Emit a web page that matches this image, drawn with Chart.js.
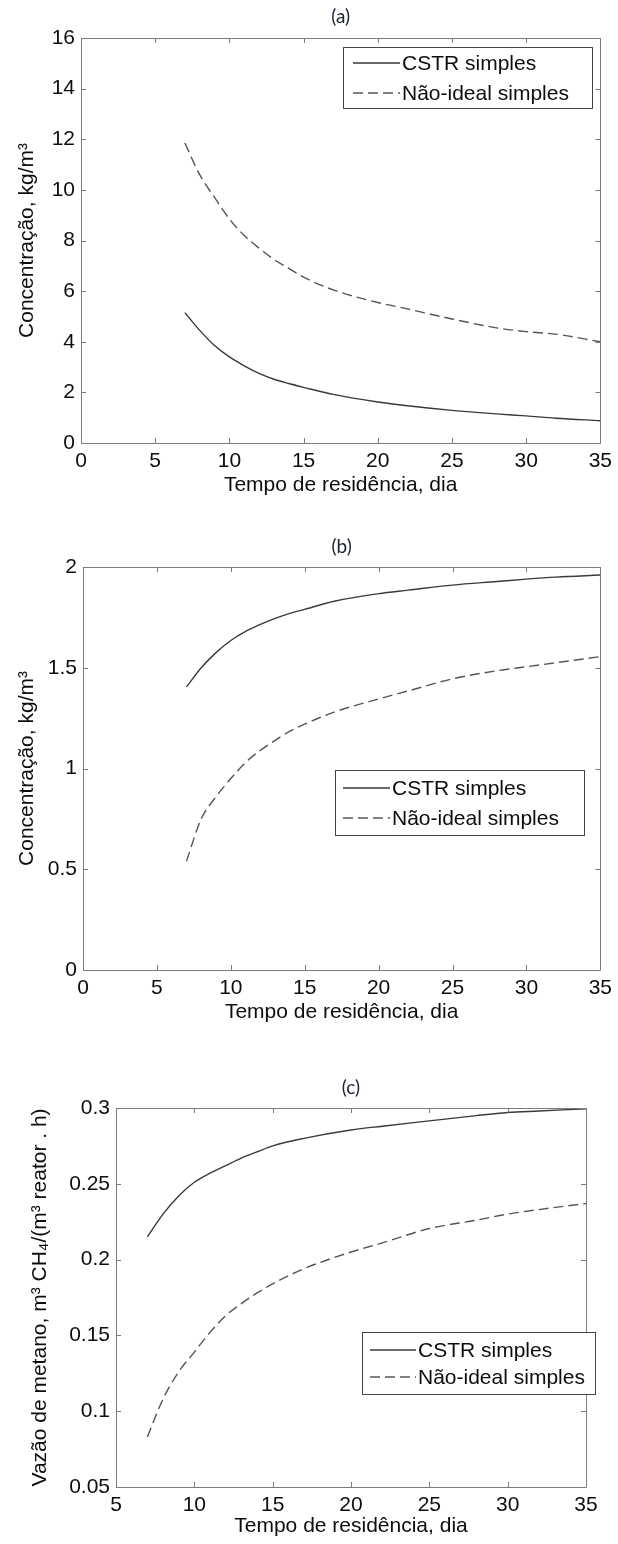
<!DOCTYPE html>
<html>
<head>
<meta charset="utf-8">
<script src="https://cdn.jsdelivr.net/npm/chart.js@4.4.0/dist/chart.umd.min.js"></script>
<style>
    body { margin: 0; background: #fff; width: 618px; height: 1544px; position: relative; overflow: hidden; }
    .panel { position: absolute; left: 0; width: 618px; }
    canvas { display: block; }
</style>
</head>
<body>
<div class="panel" style="top:0;"><canvas id="chartA" width="618" height="500"></canvas></div>
<div class="panel" style="top:520px;"><canvas id="chartB" width="618" height="507"></canvas></div>
<div class="panel" style="top:1060px;"><canvas id="chartC" width="618" height="484"></canvas></div>
<script>
// Residence time (days) used by every curve
const days = [7, 8, 9, 10, 11, 12, 13, 14, 15, 17, 20, 22, 25, 28, 30, 32, 35];
const seriesLabels = ['CSTR simples', 'Não-ideal simples'];

// (a) concentration, kg/m3
const concA_cstr     = [5.15, 4.45, 3.85, 3.4, 3.05, 2.75, 2.52, 2.35, 2.2, 1.92, 1.62, 1.47, 1.29, 1.15, 1.07, 0.98, 0.88];
const concA_naoIdeal = [11.85, 10.6, 9.7, 8.85, 8.2, 7.7, 7.25, 6.9, 6.55, 6.05, 5.55, 5.3, 4.9, 4.55, 4.4, 4.3, 4.0];
const xTicksA = [0, 5, 10, 15, 20, 25, 30, 35];
const yTicksA = [0, 2, 4, 6, 8, 10, 12, 14, 16];

// (b) concentration, kg/m3
const concB_cstr     = [1.405, 1.5, 1.575, 1.635, 1.68, 1.715, 1.745, 1.77, 1.79, 1.83, 1.868, 1.885, 1.91, 1.928, 1.94, 1.95, 1.96];
const concB_naoIdeal = [0.54, 0.75, 0.86, 0.95, 1.03, 1.09, 1.14, 1.185, 1.22, 1.28, 1.345, 1.385, 1.445, 1.485, 1.505, 1.525, 1.555];
const xTicksB = [0, 5, 10, 15, 20, 25, 30, 35];
const yTicksB = [0, 0.5, 1, 1.5, 2];

// (c) methane flow, m3 CH4/(m3 reactor . h)
const flowC_cstr     = [0.215, 0.23, 0.242, 0.251, 0.257, 0.262, 0.267, 0.271, 0.275, 0.28, 0.2855, 0.288, 0.2915, 0.295, 0.297, 0.298, 0.2995];
const flowC_naoIdeal = [0.083, 0.108, 0.126, 0.139, 0.152, 0.163, 0.171, 0.178, 0.184, 0.194, 0.205, 0.211, 0.2205, 0.226, 0.23, 0.233, 0.237];
const xTicksC = [5, 10, 15, 20, 25, 30, 35];
const yTicksC = [0.05, 0.1, 0.15, 0.2, 0.25, 0.3];

const FONT = "'Liberation Sans', Arial, sans-serif";
const TEXT_COLOR = '#0d0d0d';

// MATLAB style box with inward ticks on all four sides
const frameBox = {
    id: 'frameBox',
    afterDatasetsDraw(chart) {
        const { ctx, chartArea: a, scales: { x, y } } = chart;
        const len = 5;
        ctx.save();
        ctx.strokeStyle = '#7c7c7c';
        ctx.lineWidth = 1;
        ctx.beginPath();
        ctx.rect(Math.round(a.left) + 0.5, Math.round(a.top) + 0.5,
                 Math.round(a.right - a.left), Math.round(a.bottom - a.top));
        x.ticks.forEach(t => {
            const px = Math.round(x.getPixelForValue(t.value)) + 0.5;
            ctx.moveTo(px, a.bottom); ctx.lineTo(px, a.bottom - len);
            ctx.moveTo(px, a.top); ctx.lineTo(px, a.top + len);
        });
        y.ticks.forEach(t => {
            const py = Math.round(y.getPixelForValue(t.value)) + 0.5;
            ctx.moveTo(a.left, py); ctx.lineTo(a.left + len, py);
            ctx.moveTo(a.right, py); ctx.lineTo(a.right - len, py);
        });
        ctx.stroke();
        ctx.restore();
    }
};

// Legend box drawn inside the plot
const boxLegend = {
    id: 'boxLegend',
    afterDraw(chart, args, opts) {
        if (!opts || opts.left === undefined) return;
        const { ctx } = chart;
        ctx.save();
        ctx.fillStyle = '#fff';
        ctx.fillRect(opts.left, opts.top, opts.width, opts.height);
        ctx.strokeStyle = '#444';
        ctx.lineWidth = 1;
        ctx.strokeRect(opts.left + 0.5, opts.top + 0.5, opts.width, opts.height);
        chart.data.datasets.forEach((ds, i) => {
            const yRow = opts.top + opts.rows[i];
            ctx.beginPath();
            ctx.strokeStyle = ds.borderColor;
            ctx.lineWidth = ds.borderWidth;
            ctx.setLineDash(ds.borderDash || []);
            ctx.moveTo(opts.left + opts.lineStart, yRow);
            ctx.lineTo(opts.left + opts.lineEnd, yRow);
            ctx.stroke();
            ctx.setLineDash([]);
            ctx.fillStyle = TEXT_COLOR;
            ctx.font = '21px ' + FONT;
            ctx.textBaseline = 'middle';
            ctx.textAlign = 'left';
            ctx.fillText(ds.label, opts.left + opts.lineEnd + 2, yRow + 1);
        });
        ctx.restore();
    }
};

// Small "(a)" style caption above each plot
const panelTitle = {
    id: 'panelTitle',
    afterDraw(chart, args, opts) {
        if (!opts || !opts.text) return;
        const { ctx, chartArea: a } = chart;
        ctx.save();
        ctx.fillStyle = '#1c2233';
        ctx.font = "19px Lato, 'Open Sans', sans-serif";
        ctx.textAlign = 'center';
        ctx.textBaseline = 'middle';
        ctx.fillText(opts.text, (a.left + a.right) / 2, opts.y);
        ctx.restore();
    }
};

function fmt(v) {
    return String(+v.toFixed(3));
}

function makePanel(canvasId, cfg) {
    const ctx = document.getElementById(canvasId).getContext('2d');
    return new Chart(ctx, {
        type: 'line',
        data: {
            datasets: [{
                label: seriesLabels[0],
                data: days.map((d, i) => ({ x: d, y: cfg.solid[i] })),
                borderColor: '#3a3a3a',
                borderWidth: 1.4,
                pointRadius: 0,
                cubicInterpolationMode: 'monotone',
                fill: false
            }, {
                label: seriesLabels[1],
                data: days.map((d, i) => ({ x: d, y: cfg.dashed[i] })),
                borderColor: '#555',
                borderWidth: 1.4,
                borderDash: [10, 5],
                pointRadius: 0,
                cubicInterpolationMode: 'monotone',
                fill: false
            }]
        },
        options: {
            responsive: false,
            devicePixelRatio: 1,
            animation: false,
            layout: { padding: { top: cfg.top, right: cfg.right, left: 0, bottom: 0 } },
            plugins: {
                legend: { display: false },
                tooltip: { enabled: false },
                boxLegend: cfg.legend,
                panelTitle: { text: cfg.title, y: cfg.titleY }
            },
            scales: {
                x: {
                    type: 'linear',
                    min: cfg.xTicks[0],
                    max: cfg.xTicks[cfg.xTicks.length - 1],
                    afterBuildTicks: s => { s.ticks = cfg.xTicks.map(v => ({ value: v })); },
                    afterFit: s => { s.height = 57; },
                    grid: { display: false, drawTicks: false },
                    border: { display: false },
                    ticks: {
                        padding: 6,
                        color: TEXT_COLOR,
                        font: { family: FONT, size: 21 },
                        maxRotation: 0,
                        callback: v => fmt(v)
                    },
                    title: {
                        display: true,
                        text: 'Tempo de residência, dia',
                        color: TEXT_COLOR,
                        font: { family: FONT, size: 21 },
                        padding: { top: 0, bottom: cfg.xTitlePad }
                    }
                },
                y: {
                    type: 'linear',
                    min: cfg.yTicks[0],
                    max: cfg.yTicks[cfg.yTicks.length - 1],
                    afterBuildTicks: s => { s.ticks = cfg.yTicks.map(v => ({ value: v })); },
                    afterFit: s => { s.width = cfg.left; },
                    grid: { display: false, drawTicks: false },
                    border: { display: false },
                    ticks: {
                        padding: 6,
                        color: TEXT_COLOR,
                        font: { family: FONT, size: 21 },
                        callback: v => fmt(v)
                    },
                    title: {
                        display: true,
                        text: cfg.yTitle,
                        color: TEXT_COLOR,
                        font: { family: FONT, size: 21 },
                        padding: { top: cfg.yTitlePad, bottom: 0 }
                    }
                }
            }
        },
        plugins: [frameBox, boxLegend, panelTitle]
    });
}

makePanel('chartA', {
    solid: concA_cstr, dashed: concA_naoIdeal,
    xTicks: xTicksA, yTicks: yTicksA,
    top: 38, right: 17, left: 81,
    title: '(a)', titleY: 17,
    yTitle: 'Concentração, kg/m³', yTitlePad: 15, xTitlePad: 2,
    legend: { left: 343, top: 47, width: 249, height: 61, rows: [16, 46], lineStart: 10, lineEnd: 57 }
});

makePanel('chartB', {
    solid: concB_cstr, dashed: concB_naoIdeal,
    xTicks: xTicksB, yTicks: yTicksB,
    top: 47, right: 16, left: 83,
    title: '(b)', titleY: 27,
    yTitle: 'Concentração, kg/m³', yTitlePad: 15, xTitlePad: 2,
    legend: { left: 335, top: 250, width: 249, height: 65, rows: [18, 48], lineStart: 8, lineEnd: 55 }
});

makePanel('chartC', {
    solid: flowC_cstr, dashed: flowC_naoIdeal,
    xTicks: xTicksC, yTicks: yTicksC,
    top: 48, right: 32, left: 116,
    title: '(c)', titleY: 28,
    yTitle: 'Vazão de metano, m³ CH₄/(m³ reator . h)', yTitlePad: 28, xTitlePad: 5,
    legend: { left: 362, top: 272, width: 233, height: 62, rows: [18, 45], lineStart: 8, lineEnd: 54 }
});
</script>
</body>
</html>
